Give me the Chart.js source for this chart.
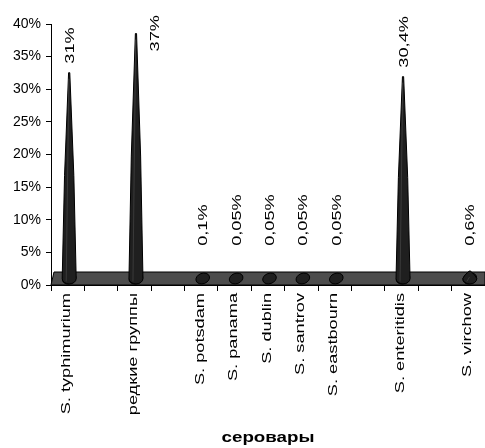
<!DOCTYPE html>
<html>
<head>
<meta charset="utf-8">
<script src="https://cdn.jsdelivr.net/npm/chart.js@4"></script>
<style>
  html, body { margin: 0; padding: 0; background: #fff; }
  canvas { display: block; }
</style>
</head>
<body>
<canvas id="chart" width="485" height="448"></canvas>
<script>
(function () {
  "use strict";

  // Empty categories keep the gaps Excel left between the groups.
  const categories = [
    "S. typhimurium", "", "редкие группы", "", "S. potsdam", "S. panama",
    "S. dublin", "S. santrov", "S. eastbourn", "", "S. enteritidis", "", "S. virchow",
  ];
  const shares = [31, null, 37, null, 0.1, 0.05, 0.05, 0.05, 0.05, null, 30.4, null, 0.6];
  const shareLabels = [
    "31%", "", "37%", "", "0,1%", "0,05%", "0,05%", "0,05%", "0,05%", "", "30,4%", "", "0,6%",
  ];
  const yTickLabels = ["0%", "5%", "10%", "15%", "20%", "25%", "30%", "35%", "40%"];
  const axisTitle = "серовары";

  const FONT = '"Liberation Sans", Arial, sans-serif';
  const STRETCH = 1.4; // the old export draws text wider along its length

  function drawRotated(ctx, text, x, y, align, font, stretch) {
    ctx.save();
    ctx.translate(x, y);
    ctx.rotate(-Math.PI / 2);
    ctx.scale(stretch, 1);
    ctx.font = font;
    ctx.textAlign = align;
    ctx.textBaseline = "middle";
    ctx.fillStyle = "#000";
    ctx.fillText(text, 0, 0);
    ctx.restore();
  }

  const conePlugin = {
    id: "cones",
    beforeDatasetsDraw(chart) {
      // dark 3D floor under the cones
      const {ctx, chartArea} = chart;
      const y0 = chart.scales.y.getPixelForValue(0);
      const top = y0 - 13;
      ctx.save();
      ctx.beginPath();
      ctx.moveTo(chartArea.left, y0);
      ctx.lineTo(chartArea.left + 3, top);
      ctx.lineTo(chartArea.right, top);
      ctx.lineTo(chartArea.right, y0);
      ctx.closePath();
      ctx.fillStyle = "#4d4d4d";
      ctx.fill();
      ctx.strokeStyle = "#000";
      ctx.lineWidth = 1;
      ctx.stroke();
      ctx.restore();
    },
    afterDatasetsDraw(chart) {
      const {ctx, chartArea} = chart;
      const yScale = chart.scales.y;
      const meta = chart.getDatasetMeta(0);
      const base = yScale.getPixelForValue(0) - 6.5;

      meta.data.forEach((bar, i) => {
        const v = shares[i];
        if (v === null || v === undefined) {
          return;
        }
        const x = bar.x + 1.5;
        const tip = yScale.getPixelForValue(v) - 10;

        ctx.save();
        ctx.fillStyle = "#1f1f1f";
        ctx.strokeStyle = "#000";
        ctx.lineWidth = 1;
        ctx.beginPath();
        ctx.ellipse(x, base, 7, 5.2, -0.35, 0, Math.PI * 2);
        ctx.fill();
        ctx.stroke();
        if (tip < base - 6) {
          const mid = (tip + base) / 2;
          ctx.beginPath();
          ctx.moveTo(x - 7, base);
          ctx.quadraticCurveTo(x - 5.5, mid, x - 0.6, tip);
          ctx.lineTo(x + 0.6, tip);
          ctx.quadraticCurveTo(x + 5.5, mid, x + 7, base);
          ctx.ellipse(x, base, 7, 5.5, 0, 0, Math.PI);
          ctx.closePath();
          ctx.fill();
          ctx.stroke();
          ctx.strokeStyle = "#3a3a3a";
          ctx.beginPath();
          ctx.moveTo(x - 3, base + 3);
          ctx.lineTo(x - 0.3, tip + 6);
          ctx.stroke();
        }
        ctx.restore();

        // value label above the cone, moved aside if it would leave the canvas
        const font = `13px ${FONT}`;
        ctx.font = font;
        const len = ctx.measureText(shareLabels[i]).width * STRETCH;
        let lx = bar.x + 2.5;
        let start = Math.min(yScale.getPixelForValue(v) - 19, yScale.getPixelForValue(6));
        if (start - len < 8) {
          lx = bar.x + 21;
          start = len + 15;
        }
        drawRotated(ctx, shareLabels[i], lx, start, "left", font, STRETCH);
      });

      // category labels, read bottom to top
      const xScale = chart.scales.x;
      categories.forEach((name, i) => {
        if (!name) {
          return;
        }
        const x = xScale.getPixelForValue(i);
        drawRotated(ctx, name, x - 1, chartArea.bottom + 8, "right", `13px ${FONT}`, STRETCH);
      });

      // axis title
      ctx.save();
      ctx.translate((chartArea.left + chartArea.right) / 2, 438);
      ctx.scale(1.25, 1);
      ctx.font = `bold 15px ${FONT}`;
      ctx.textAlign = "center";
      ctx.textBaseline = "middle";
      ctx.fillStyle = "#000";
      ctx.fillText(axisTitle, 0, 0);
      ctx.restore();
    },
  };

  new Chart(document.getElementById("chart"), {
    type: "bar",
    data: {
      labels: categories,
      datasets: [{
        data: shares,
        backgroundColor: "rgba(0,0,0,0)",
        borderWidth: 0,
      }],
    },
    options: {
      responsive: false,
      animation: false,
      devicePixelRatio: 1,
      layout: {padding: {top: 24, left: 0, right: 0, bottom: 0}},
      plugins: {
        legend: {display: false},
        tooltip: {enabled: false},
      },
      scales: {
        x: {
          grid: {offset: true, drawOnChartArea: false, tickLength: 6, color: "#000"},
          border: {color: "#000"},
          ticks: {display: false},
          afterFit(scale) {
            scale.height = 448 - 285;
          },
        },
        y: {
          min: 0,
          max: 40,
          ticks: {
            stepSize: 5,
            color: "#000",
            padding: 5,
            font: {size: 14, family: FONT},
            callback: (value, index) => yTickLabels[index],
          },
          grid: {drawOnChartArea: false, tickLength: 5, color: "#000"},
          border: {color: "#000"},
          afterFit(scale) {
            scale.width = 51;
          },
        },
      },
    },
    plugins: [conePlugin],
  });
})();
</script>
</body>
</html>
